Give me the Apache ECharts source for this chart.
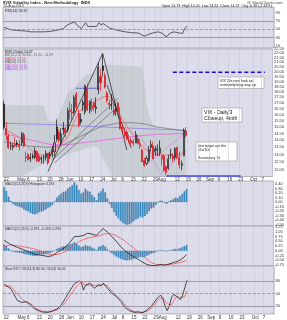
<!DOCTYPE html>
<html><head><meta charset="utf-8">
<script src="https://cdn.jsdelivr.net/npm/echarts@6/dist/echarts.min.js"></script>
<style>html,body{margin:0;padding:0;background:#fff}#c{width:287px;height:320px}</style>
</head><body><div id="c"></div>
<script>
// ---------- calendar / tick labels ----------
const startDate = '2013-04-19', endDate = '2013-10-11';
const holidays = ['2013-05-27', '2013-07-04', '2013-09-02'];
const xLabelDates = ['2013-04-22','2013-05-01','2013-05-06','2013-05-13','2013-05-20','2013-05-28','2013-06-03','2013-06-10','2013-06-17','2013-06-24','2013-07-01','2013-07-08','2013-07-15','2013-07-22','2013-07-29','2013-08-01','2013-08-12','2013-08-19','2013-08-26','2013-09-03','2013-09-09','2013-09-16','2013-09-23','2013-10-01','2013-10-07'];
const xLabelTexts = ['22','May','6','13','20','28','Jun','10','17','24','Jul','8','15','22','29','Aug','12','19','26','Sep','9','16','23','Oct','7'];

// ---------- price (daily candles, Apr 19 .. Aug 16) ----------
const opens  = [16.9,14.9,14.3,13.6,13.5,13.7,13.8,13.7,13.8,14.4,12.8,13.0,12.8,12.9,12.8,13.2,12.9,12.7,12.8,12.8,13.1,12.9,13.0,13.2,15.0,14.6,13.8,14.9,14.9,14.8,16.4,16.2,16.2,17.8,16.1,15.6,16.8,16.2,18.3,16.4,16.5,17.0,16.5,18.2,19.5,20.6,19.6,17.9,17.0,16.8,16.4,16.3,17.0,15.8,14.7,14.6,14.6,13.9,14.0,13.9,13.8,14.1,13.6,13.3,12.6,12.4,12.6,13.5,13.6,13.2,13.3,13.1,12.7,12.9,12.2,12.1,13.0,12.9,12.8,13.5,12.8,12.3,12.9,14.7];
const highs  = [17.2,15.4,14.5,13.9,13.8,14.2,14.0,14.0,14.6,14.6,13.2,13.1,13.1,13.1,13.5,13.3,13.1,12.9,13.0,13.3,13.1,13.2,13.6,14.4,15.6,14.8,14.9,15.4,15.0,16.6,17.1,16.9,17.7,18.0,16.4,16.1,17.3,18.7,18.8,17.2,17.4,17.1,17.5,21.0,20.3,21.9,19.9,18.1,17.3,17.8,16.9,17.0,17.1,16.6,15.2,14.9,14.8,14.4,14.2,14.1,14.7,14.4,14.1,13.4,12.8,12.9,13.6,14.0,13.9,13.6,13.7,14.0,13.0,13.0,12.3,13.0,13.4,13.1,13.5,13.5,13.2,12.6,14.9,15.0];
const lows   = [14.8,14.0,13.4,13.3,13.3,13.5,13.5,13.3,13.6,13.5,12.5,12.6,12.5,12.7,12.7,12.5,12.5,12.4,12.4,12.6,12.3,12.7,12.8,12.9,13.9,13.8,13.6,14.4,14.2,14.6,15.6,15.5,16.0,16.3,15.0,15.2,16.3,16.0,16.3,16.1,16.2,16.3,16.1,17.8,18.1,19.5,18.3,17.0,16.4,16.4,15.9,15.9,16.0,14.8,14.5,14.2,14.0,13.8,13.6,13.6,13.8,13.7,13.4,12.5,12.2,12.3,12.5,13.2,12.7,12.9,12.9,12.9,12.3,11.9,11.7,12.0,12.7,12.5,12.6,12.7,12.1,12.0,12.9,14.2];
const closes = [14.97,14.39,13.48,13.61,13.62,13.61,13.71,13.52,14.49,13.59,12.85,12.66,12.73,12.83,13.25,12.59,12.55,12.77,12.80,13.07,12.45,13.02,13.37,13.82,14.07,13.99,14.48,14.83,14.53,16.30,16.27,16.14,17.50,16.63,15.14,15.44,17.07,18.59,16.41,17.15,16.80,16.61,16.64,20.49,18.90,20.11,18.47,17.21,16.86,16.86,16.07,16.44,16.20,14.89,14.78,14.35,14.21,14.01,13.84,13.79,14.42,13.78,13.77,12.54,12.29,12.74,13.32,13.70,12.72,13.39,13.39,13.45,12.94,11.98,11.84,12.72,12.98,12.73,13.41,12.81,12.31,12.40,14.73,14.37];

// moving averages and bands as read (day index, value)
const maRed    = [[0,14.8],[3,14.6],[7,14.2],[11,13.5],[15,13.0],[19,12.95],[23,13.3],[26,13.7],[29,14.2],[31,15.0],[34,16.2],[37,16.7],[40,17.0],[43,17.3],[46,17.6],[48,17.6],[50,17.1],[52,16.3],[55,15.3],[58,14.6],[61,13.9],[64,13.4],[67,13.1],[71,13.0],[75,12.95],[79,12.95],[83,13.2]];
const maGray   = [[0,13.9],[10,13.6],[20,13.5],[26,13.6],[30,13.9],[35,14.3],[40,14.7],[45,15.1],[52,15.3],[58,15.35],[64,15.25],[70,15.0],[76,14.85],[83,14.7]];
const maPink   = [[0,14.5],[10,14.1],[21,13.7],[30,13.7],[40,13.9],[50,14.1],[60,14.3],[70,14.45],[83,14.5]];
const maPurple = [[0,15.3],[20,15.2],[40,15.05],[60,14.9],[83,14.75]];
const bbIdx   = [0,18,19,20,23,25,27,29,33,37,41,43,45,50,58,63,64,65,66,68,72,80,83];
const bbUpper = [16.8,16.8,16.2,15.5,15.4,16.0,16.9,17.9,18.6,19.6,19.9,20.4,20.7,20.7,20.6,20.5,19.0,17.0,16.0,15.1,14.8,14.7,14.9];
const bbLower = [11.0,12.4,12.45,12.5,12.7,12.8,12.9,13.0,13.2,13.4,13.6,13.5,12.8,11.5,11.2,11.2,11.2,11.2,11.2,11.2,11.2,11.2,11.2];

// drawn trend lines (day index, price)
const trendBlack = [[[20,11.9],[45,22.0]], [[45,22.0],[55.9,13.32]], [[47.2,18.65],[58.1,13.46]]];
const trendGray  = [[[22.2,12.65],[51.8,17.42]], [[23.1,12.45],[50.4,16.36]]];
const trendPink  = [[[61.8,14.39],[70.9,11.89]], [[65,12.33],[83.1,14.62]], [[70.9,11.71],[83.1,13.32]]];
const blueDashTop   = [[77,19.95],[119,19.95]];
const blueDashShort = [[33,18.35],[44,18.35]];
const blueBottom    = [[74,11.63],[108,11.63]];
const priceTicks = [12,12.5,13,13.5,14,14.5,15,15.5,16,16.5,17,17.5,18,18.5,19,19.5,20,20.5,21,21.5,22,22.5];

// indicators
const rsi = [[0,55],[3,49],[7,47],[10,46],[12,44],[15,44],[18,44],[21,45],[24,48],[27,52],[28,58],[30,64],[32,68],[33,61],[35,52],[37,66],[38,57],[40,57],[42,57],[43,66],[44,61],[45,64],[46,60],[48,53],[50,50],[52,47],[55,44],[58,42],[61,41],[63,35],[64,34],[66,39],[68,42],[70,44],[72,40],[73,34],[74,33],[75,40],[77,44],[79,42],[80,41],[81,40],[82,52],[83,58.3]];
const rsiTicks = [10,30,50,70,90];
const macdHist = [0.33,0.25,0.12,0.03,-0.04,-0.07,-0.09,-0.10,-0.12,-0.16,-0.19,-0.20,-0.24,-0.26,-0.27,-0.25,-0.22,-0.21,-0.19,-0.16,-0.13,-0.10,-0.06,0.02,0.10,0.15,0.19,0.23,0.24,0.30,0.34,0.38,0.44,0.38,0.27,0.19,0.22,0.30,0.25,0.23,0.16,0.11,0.04,0.20,0.24,0.30,0.22,0.08,-0.04,-0.13,-0.22,-0.30,-0.36,-0.42,-0.46,-0.49,-0.50,-0.49,-0.46,-0.42,-0.38,-0.36,-0.32,-0.34,-0.31,-0.26,-0.20,-0.14,-0.12,-0.06,-0.01,0.03,0.03,-0.02,-0.04,0.02,0.04,0.07,0.10,0.09,0.14,0.18,0.24,0.29];
const histTicks = [-0.5,-0.4,-0.3,-0.2,-0.1,0,0.1,0.2,0.3,0.4];
const macdLine = [[0,0.55],[3,0.33],[6,0.18],[9,0.05],[12,-0.1],[14,-0.18],[17,-0.24],[20,-0.3],[22,-0.26],[24,-0.1],[26,0.05],[28,0.2],[30,0.45],[32,0.75],[34,0.75],[36,0.8],[38,0.92],[40,0.88],[42,0.8],[44,1.05],[45,1.17],[47,0.98],[49,0.75],[51,0.5],[53,0.22],[55,0.0],[57,-0.18],[59,-0.32],[61,-0.45],[63,-0.6],[65,-0.72],[67,-0.78],[69,-0.78],[71,-0.72],[73,-0.75],[75,-0.7],[77,-0.62],[79,-0.55],[81,-0.42],[83,-0.2]];
const macdSignal = [[0,0.22],[3,0.3],[6,0.27],[9,0.21],[12,0.14],[14,0.09],[17,-0.03],[20,-0.17],[22,-0.2],[24,-0.2],[26,-0.14],[28,-0.04],[30,0.11],[32,0.31],[34,0.48],[36,0.58],[38,0.67],[40,0.72],[42,0.76],[44,0.81],[45,0.87],[47,0.9],[49,0.88],[51,0.8],[53,0.66],[55,0.5],[57,0.32],[59,0.14],[61,-0.05],[63,-0.27],[65,-0.45],[67,-0.62],[69,-0.72],[71,-0.75],[73,-0.73],[75,-0.72],[77,-0.69],[79,-0.64],[81,-0.6],[83,-0.49]];
const macdTicks = [-0.75,-0.5,-0.25,0,0.25,0.5,0.75,1,1.25];
const stochK = [[0,72],[3,62],[6,33],[8,28],[10,30],[12,22],[14,12],[17,5],[20,4],[22,8],[24,12],[26,22],[28,40],[30,58],[32,74],[34,80],[35,78],[36,58],[37,70],[39,75],[41,62],[43,72],[44,68],[45,75],[47,62],[49,50],[51,42],[53,30],[55,15],[57,8],[59,4],[61,5],[63,3],[65,10],[67,20],[69,35],[71,46],[72,38],[73,20],[74,8],[75,20],[76,40],[77,48],[79,40],[80,35],[81,45],[83,82]];
const stochD = [[0,68],[3,68],[6,48],[9,32],[12,25],[15,12],[18,6],[21,5],[24,10],[27,22],[30,45],[33,68],[35,78],[37,70],[39,70],[41,70],[43,68],[45,72],[47,68],[49,55],[51,45],[53,35],[55,22],[57,12],[59,6],[62,4],[65,7],[68,20],[70,35],[72,40],[74,25],[76,22],[78,42],[80,40],[82,42],[83,56]];
const stochTicks = [20,50,80];

// ---------- build ----------
function tradingDays(s, e, hol) {
  const out = []; const d = new Date(s + 'T00:00:00Z'); const end = new Date(e + 'T00:00:00Z');
  while (d <= end) { const w = d.getUTCDay(); const iso = d.toISOString().slice(0, 10);
    if (w !== 0 && w !== 6 && hol.indexOf(iso) < 0) out.push(iso); d.setUTCDate(d.getUTCDate() + 1); }
  return out;
}
const cats = tradingDays(startDate, endDate, holidays);
const labelMap = {}; xLabelDates.forEach((d, i) => labelMap[d] = xLabelTexts[i]);
const showTick = (i, v) => labelMap[v] !== undefined;

const FONT = 'Liberation Sans';
const BG = '#dcdcea', GRIDC = '#c6c6d6', BORDER = '#8c8c9c';
const gridDefs = [{top:7,height:41},{top:49,height:127.5},{top:181,height:45},{top:226,height:40},{top:266,height:48}];
const grid = gridDefs.map(g => ({left:3, right:13, top:g.top, height:g.height, show:true, backgroundColor:BG, borderColor:BORDER, borderWidth:0.6}));
const xAxis = gridDefs.map((g, i) => ({
  type:'category', gridIndex:i, data:cats, boundaryGap:true,
  axisLine:{show:false}, axisTick:{show:false},
  axisLabel:{show: i === 1 || i === 4, interval:showTick, formatter:v => labelMap[v] || '', fontSize:4.5, margin:1, color:'#333', fontFamily:FONT},
  splitLine:{show:true, interval:showTick, lineStyle:{color:GRIDC, width:0.6}}
}));
const yLab = (ticks, fmt) => ({customValues:ticks, fontSize:4, margin:1.5, color:'#333', fontFamily:FONT, formatter:fmt});
const yBase = {position:'right', axisLine:{show:false}, axisTick:{show:false}, splitLine:{show:false}};
const yAxis = [
  Object.assign({type:'value', gridIndex:0, min:5, max:104, axisLabel:yLab(rsiTicks, v => String(v))}, yBase),
  Object.assign({type:'log', logBase:10, gridIndex:1, min:11.6, max:22.5, axisLabel:{show:false}}, yBase),
  Object.assign({type:'value', gridIndex:1, min:Math.log(11.6), max:Math.log(22.5), axisLabel:yLab(priceTicks.map(Math.log), v => Math.exp(v).toFixed(2))}, yBase),
  Object.assign({type:'value', gridIndex:2, min:-0.53, max:0.47, axisLabel:yLab(histTicks, v => v.toFixed(2))}, yBase),
  Object.assign({type:'value', gridIndex:3, min:-0.8, max:1.3, axisLabel:yLab(macdTicks, v => v.toFixed(2))}, yBase),
  Object.assign({type:'value', gridIndex:4, min:0, max:116.5, axisLabel:yLab(stochTicks, v => String(v))}, yBase)
];

const line = (data, color, width, xi, yi, extra) => Object.assign({
  type:'line', xAxisIndex:xi, yAxisIndex:yi, data, showSymbol:false, symbol:'none', silent:true,
  lineStyle:{color, width}, z:3, animation:false
}, extra || {});
const refLines = (vals, dashed) => ({silent:true, symbol:'none', label:{show:false}, animation:false,
  data: vals.map((v, i) => ({yAxis:v, lineStyle:{color:BORDER, width:0.8, type: dashed[i] ? 'dashed' : 'solid'}}))});

const candles = opens.map((o, i) => {
  const c = closes[i];
  const col = (i > 0 && c < closes[i - 1]) ? '#e3141e' : '#151515';
  const fill = c > o ? 'rgba(0,0,0,0)' : col;
  return {value:[o, c, lows[i], highs[i]], itemStyle:{color:fill, color0:fill, borderColor:col, borderColor0:col, borderWidth:0.7}};
});

const series = [];
series.push(line(rsi, '#222', 0.7, 0, 0, {markLine: refLines([70, 30, 50], [false, false, true])}));
series.push({type:'custom', xAxisIndex:1, yAxisIndex:1, clip:true, silent:true, z:1,
  data: bbIdx.map((x, i) => [x, bbUpper[i], bbLower[i]]),
  renderItem: (params, api) => {
    if (params.dataIndex !== 0) return null;
    const pts = [];
    for (let i = 0; i < bbIdx.length; i++) pts.push(api.coord([bbIdx[i], bbUpper[i]]));
    for (let i = bbIdx.length - 1; i >= 0; i--) pts.push(api.coord([bbIdx[i], bbLower[i]]));
    const cs = params.coordSys;
    return {type:'group', clipPath:{type:'rect', shape:{x:cs.x, y:cs.y, width:cs.width, height:cs.height}},
      children:[{type:'polygon', shape:{points:pts}, style:{fill:'rgba(170,180,176,0.36)'}}]};
  }});
series.push(line(maPurple, '#8c80e8', 0.8, 1, 1));
series.push(line(maPink, '#e464e4', 0.8, 1, 1));
series.push(line(maGray, '#6e6e6e', 0.7, 1, 1));
series.push(line(maRed, '#f06464', 0.8, 1, 1));
trendGray.forEach(t => series.push(line(t, '#555', 0.6, 1, 1)));
trendBlack.forEach(t => series.push(line(t, '#1a1a1a', 0.7, 1, 1)));
trendPink.forEach(t => series.push(line(t, '#e070e0', 0.6, 1, 1)));
series.push(line(blueDashTop, '#1010d0', 1.5, 1, 1, {lineStyle:{color:'#1010d0', width:1.5, type:[4, 2.5]}}));
series.push(line(blueDashShort, '#3a3ae0', 1, 1, 1, {lineStyle:{color:'#3a3ae0', width:1, type:[2, 1]}}));
series.push(line(blueBottom, '#4848e8', 1.5, 1, 1));
series.push({type:'candlestick', xAxisIndex:1, yAxisIndex:1, data:candles, barWidth:'70%', z:5, silent:true, animation:false});
series.push({type:'bar', xAxisIndex:2, yAxisIndex:3, data:macdHist, barWidth:'72%', silent:true, animation:false,
  itemStyle:{color:'#3d93c8', borderColor:'#1d5f8e', borderWidth:0.3}});
series.push({type:'bar', xAxisIndex:3, yAxisIndex:4, data:macdHist, barWidth:'72%', silent:true, animation:false,
  itemStyle:{color:'#3d93c8', borderColor:'#1d5f8e', borderWidth:0.3}});
series.push(line(macdSignal, '#f05a5a', 0.8, 3, 4));
series.push(line(macdLine, '#222', 0.8, 3, 4));
series.push(line(stochD, '#f05a5a', 0.8, 4, 5, {markLine: refLines([80, 20, 50], [false, false, true])}));
series.push(line(stochK, '#222', 0.8, 4, 5));

// ---------- texts ----------
const txt = (x, y, text, size, color, extra) => ({type:'text', x, y, silent:true, z:100,
  style:Object.assign({text, fontSize:size, fill:color || '#222', fontFamily:FONT}, extra || {})});
const box = (x, y, w, h, lines, size, lh) => ({type:'group', x, y, silent:true, z:100, children:[
  {type:'rect', shape:{x:0, y:0, width:w, height:h}, style:{fill:'#fff', stroke:'#9a9a9a', lineWidth:0.6}},
  {type:'text', x:2, y:2, style:{text:lines.join('\n'), fontSize:size, lineHeight:lh, fill:'#111', fontFamily:FONT}}]});
const graphic = [
  txt(3, 0.5, '$VIX Volatility Index - New Methodology  INDX', 4, '#222', {fontWeight:'bold'}),
  txt(247, 0.5, '@ StockCharts.com', 4, '#444'),
  txt(3, 3.8, '16-Aug-2013', 3.6, '#444'),
  txt(272, 3.8, 'Open 14.73  High 15.05  Low 14.24  Close 14.37  Chg -0.36 (-2.44%)', 3.6, '#222', {align:'right'}),
  txt(5, 8.5, 'RSI(14) 58.32', 3.6, '#333'),
  txt(5, 50.5, '$VIX (Daily) 14.37', 3.4, '#222'),
  txt(5, 54, 'BB(20,2.0) 14.94 - 13.11 - 11.29', 3.4, '#666'),
  txt(5, 57.5, 'MA(10) 13.21', 3.4, '#e04848'),
  txt(5, 61, 'MA(50) 14.70', 3.4, '#555'),
  txt(5, 64.5, 'MA(100) 14.50', 3.4, '#d050d0'),
  txt(5, 68, 'MA(200) 14.75', 3.4, '#6c60e0'),
  txt(5, 182.5, 'MACD(12,26,9) Histogram 0.294', 3.4, '#333'),
  txt(5, 227.3, 'MACD(12,26,9) -0.199, -0.493, 0.294', 3.4, '#333'),
  txt(5, 267.3, 'Slow STO %K(14,3) 80.00, %D(3) 56.00', 3.4, '#333'),
  box(218, 77, 46, 11.5, ['VIX 20s now look an', 'extremely long way up.'], 3.6, 4.3),
  box(202, 108, 40, 14, ['VIX - Daily\'3', 'Closeup, 4mth'], 5.2, 5.6),
  box(196, 142, 41, 19, ['first target are the', '11s/10s', '', 'Secondary 10'], 3.6, 3.9)
];

const chart = echarts.init(document.getElementById('c'), null, {renderer:'canvas', width:287, height:320});
chart.setOption({animation:false, backgroundColor:'#ffffff', grid, xAxis, yAxis, series, graphic});
</script></body></html>
